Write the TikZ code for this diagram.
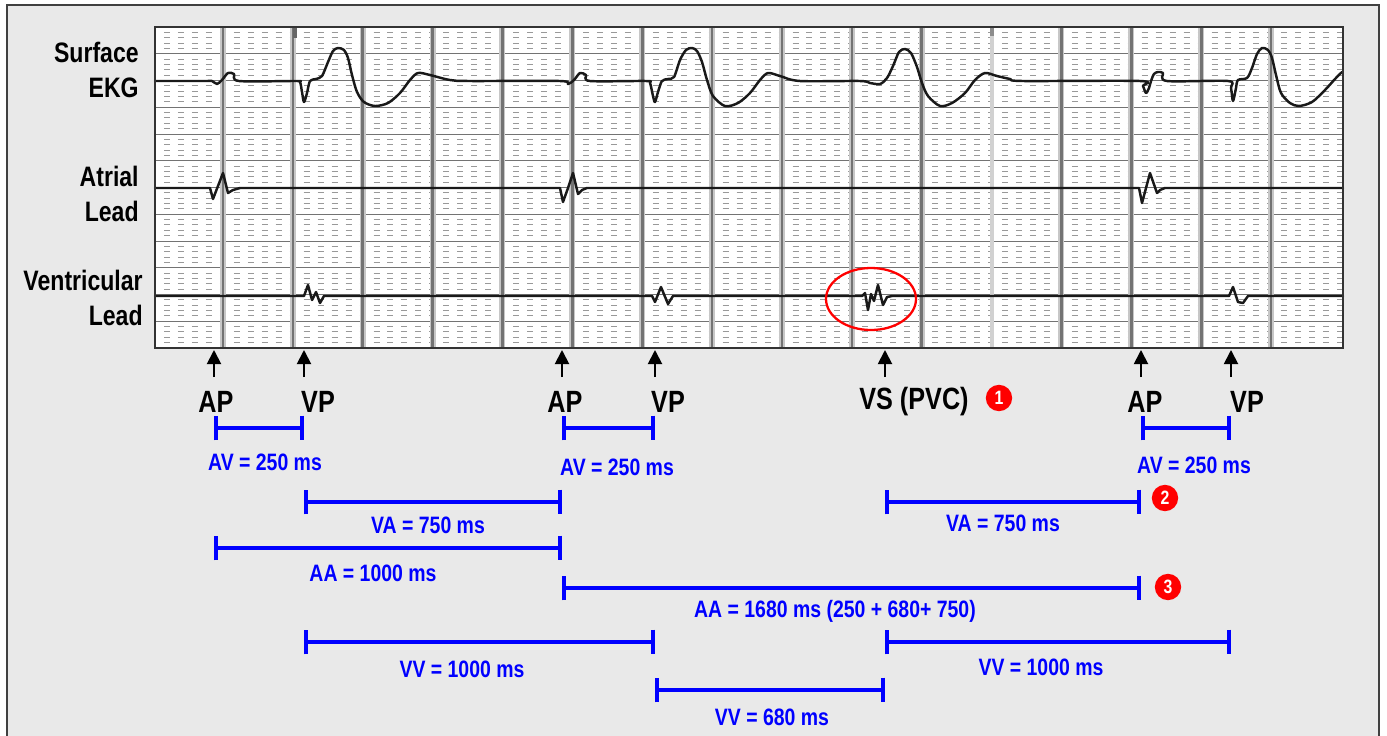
\documentclass[tikz,border=0pt]{standalone}
\usepackage{fontspec}
\setmainfont{Liberation Sans}[FakeStretch=0.82]
\usetikzlibrary{arrows.meta,positioning}

\definecolor{panel}{RGB}{233,233,233}

\tikzset{
  trace/.style={black!90, line width=1.4pt, line join=round, line cap=round},
  evtarrow/.style={-{Triangle[width=8pt,length=8pt]}, line width=1.1pt},
  evtlabel/.style={font=\fontsize{17.5}{21}\selectfont\bfseries, inner sep=0pt, anchor=base},
  leadlabel/.style={font=\fontsize{16}{19.5}\selectfont\bfseries, align=right, anchor=east, inner sep=0pt},
  ivl/.style={blue, line width=2.2pt, {Bar[width=14pt]}-{Bar[width=14pt]}},
  ivllabel/.style={blue, font=\fontsize{13.5}{16}\selectfont\bfseries, inner sep=0pt, anchor=base},
  badge/.style={circle, fill=red, text=white, minimum size=15pt, inner sep=0pt, font=\fontsize{11}{11}\selectfont\bfseries},
}

\begin{document}
\begin{tikzpicture}[x=0.02cm, y=-0.02cm]
  % 画布与外框
  \useasboundingbox (0,0) rectangle (1387,735);
  \clip (0,0) rectangle (1387,735);
  \draw[black!75, line width=1.2pt, fill=panel] (7,5) rectangle (1379,760);

  % 心电图纸
  \fill[white] (155,27) rectangle (1343,348);
  \foreach \k in {0,...,11}
    \foreach \j in {1,...,4}
      \draw[black!40, line width=0.6pt, dash pattern=on 0.12cm off 0.1594cm]
        (164,{27+26.75*\k+5.35*\j}) -- (1343,{27+26.75*\k+5.35*\j});
  \foreach \k in {1,...,11}
    \draw[black!55, line width=0.4pt] (155,{27+26.75*\k}) -- (1343,{27+26.75*\k});
  \foreach \k in {0,...,10,12,13,14,15} {
    \draw[black!22, line width=3.4pt] ({223+69.87*\k},27) -- ({223+69.87*\k},348);
    \draw[black!55, line width=1.5pt] ({223+69.87*\k},27) -- ({223+69.87*\k},348);
  }
  \draw[black!18, line width=2.6pt] (992,27) -- (992,348);
  \fill[black!60] (293,27) rectangle (297,38);
  \fill[black!45] (990,27) rectangle (994,36);

  % 三条导联
  \draw[trace] plot[smooth, tension=0.5] coordinates {
    (155,81) (205,81) (212,81) (217,84) (222,80) (228,73) (234,74) (239,81) (296,81)
    (300,82) (302,92) (304,102) (307,93) (310,81) (316,79) (322,76) (328,62) (333,51)
    (338,48) (344,50) (348,58) (352,75) (357,92) (364,102) (375,106) (388,103) (400,93)
    (410,80) (418,73) (430,75) (450,80) (470,81) (560,81) (568,84) (574,80) (580,73)
    (586,75) (590,81) (646,81) (650,83) (653,96) (655,102) (658,92) (662,81) (668,79)
    (674,77) (680,60) (686,50) (692,48) (697,51) (702,62) (707,80) (713,96) (725,106)
    (738,103) (750,93) (760,80) (768,73) (780,76) (800,81) (860,81) (870,83) (880,84)
    (887,78) (893,66) (899,52) (905,49) (911,53) (917,67) (922,83) (928,96) (940,106)
    (952,103) (965,93) (975,80) (985,73) (997,76) (1010,79) (1023,81) (1140,81)
    (1143,86) (1146,93) (1149,88) (1151,81) (1154,74) (1158,72) (1163,73) (1167,81)
    (1228,81) (1231,88) (1233,101) (1236,88) (1238,80) (1247,78) (1252,68) (1257,54)
    (1262,48) (1268,50) (1272,58) (1276,75) (1281,93) (1290,103) (1299,106) (1312,102)
    (1325,90) (1335,79) (1342,72)};
  \draw[trace] (155,188) -- (210,188) -- (213,199) -- (218,186) -- (223,173) -- (228,193)
    -- (233,190) -- (240,188) -- (560,188) -- (563,202) -- (568,188) -- (573,173)
    -- (578,194) -- (582,190) -- (587,188) -- (1139,188) -- (1142,203) -- (1146,188)
    -- (1150,173) -- (1157,193) -- (1160,190) -- (1165,188) -- (1343,188);
  \draw[trace] (155,296) -- (304,296) -- (308,285) -- (312,300) -- (316,292) -- (320,303)
    -- (324,296) -- (652,296) -- (655,302) -- (661,287) -- (668,304) -- (673,296)
    -- (862,296) -- (865,293) -- (868,310) -- (871,294) -- (874,301) -- (878,285)
    -- (883,305) -- (887,297) -- (892,296) -- (1229,296) -- (1233,287) -- (1238,302)
    -- (1243,303) -- (1248,296) -- (1343,296);
  \draw[black!80, line width=0.7pt] (155,27) rectangle (1343,348);

  % 早搏标记
  \draw[red, line width=1.3pt] (871,299) ellipse [x radius=45, y radius=31];

  % 导联名称
  \node[leadlabel] (ekg) at (139,70) {Surface\\EKG};
  \node[leadlabel] (atrial) at (139,194) {Atrial\\Lead};
  \node[leadlabel] (ventr) at (143,298) {Ventricular\\Lead};

  % 起搏与感知事件
  \foreach \n/\x in {a1/214, v1/304, a2/562, v2/655, s1/885, a3/1141, v3/1231}
    \coordinate (\n) at (\x,350);
  \coordinate (tail) at (0,377);
  \foreach \n in {a1,v1,a2,v2,s1,a3,v3}
    \draw[evtarrow] (\n |- tail) -- (\n);

  \node[evtlabel] (lap1) at (216,412) {AP};
  \node[evtlabel] (lvp1) at (318,412) {VP};
  \node[evtlabel] (lap2) at (565,412) {AP};
  \node[evtlabel] (lvp2) at (668,412) {VP};
  \node[evtlabel] (lvs) at (914,409) {VS (PVC)};
  \node[evtlabel] (lap3) at (1145,412) {AP};
  \node[evtlabel] (lvp3) at (1247,412) {VP};

  \node[badge] (n1) at (999,398) {1};
  \node[badge] (n2) at (1165,498) {2};
  \node[badge] (n3) at (1168,587) {3};

  % 间期
  \foreach \r/\y in {r1/428, r2/502, r3/548, r4/588, r5/642, r6/690}
    \coordinate (\r) at (0,\y);
  \draw[ivl] (a1 |- r1) -- (v1 |- r1);
  \draw[ivl] (a2 |- r1) -- (v2 |- r1);
  \draw[ivl] (a3 |- r1) -- (v3 |- r1);
  \draw[ivl] (v1 |- r2) -- (a2 |- r2);
  \draw[ivl] (s1 |- r2) -- (a3 |- r2);
  \draw[ivl] (a1 |- r3) -- (a2 |- r3);
  \draw[ivl] (a2 |- r4) -- (a3 |- r4);
  \draw[ivl] (v1 |- r5) -- (v2 |- r5);
  \draw[ivl] (s1 |- r5) -- (v3 |- r5);
  \draw[ivl] (v2 |- r6) -- (s1 |- r6);

  \node[ivllabel] (av1) at (265,470) {AV = 250 ms};
  \node[ivllabel] (av2) at (617,475) {AV = 250 ms};
  \node[ivllabel] (av3) at (1194,473) {AV = 250 ms};
  \node[ivllabel] (va1) at (428,533) {VA = 750 ms};
  \node[ivllabel] (va2) at (1003,531) {VA = 750 ms};
  \node[ivllabel] (aa1) at (373,581) {AA = 1000 ms};
  \node[ivllabel] (aa2) at (835,617) {AA = 1680 ms (250 + 680+ 750)};
  \node[ivllabel] (vv1) at (462,677) {VV = 1000 ms};
  \node[ivllabel] (vv2) at (1041,675) {VV = 1000 ms};
  \node[ivllabel] (vv3) at (772,725) {VV = 680 ms};
\end{tikzpicture}
\end{document}
